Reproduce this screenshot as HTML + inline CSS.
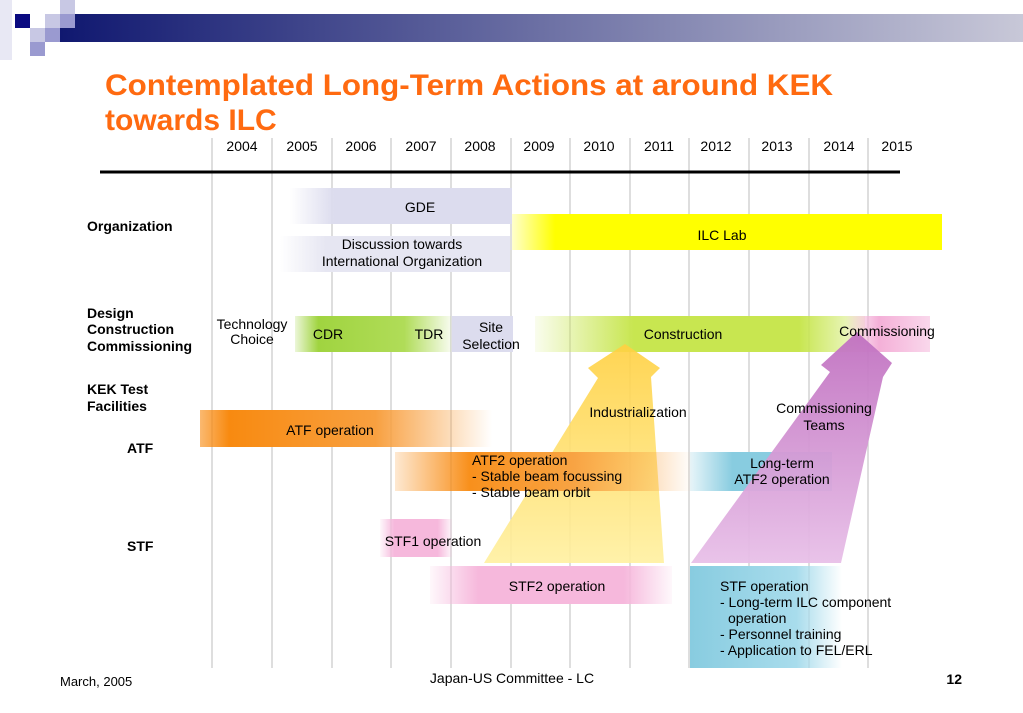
<!DOCTYPE html>
<html><head><meta charset="utf-8"><style>
body{margin:0;width:1023px;height:708px;overflow:hidden;background:#fff;font-family:"Liberation Sans",Arial,sans-serif}
</style></head><body>
<svg width="1023" height="708" viewBox="0 0 1023 708" xmlns="http://www.w3.org/2000/svg" font-family="Liberation Sans, Arial, sans-serif">
<defs>
<linearGradient id="hb" x1="0" x2="1"><stop offset="0" stop-color="#101870"/><stop offset="1" stop-color="#c8c8d8"/></linearGradient>
<linearGradient id="lavL" x1="0" x2="1"><stop offset="0" stop-color="#dcdcee" stop-opacity="0"/><stop offset="0.2" stop-color="#dcdcee"/><stop offset="1" stop-color="#dcdcee"/></linearGradient>
<linearGradient id="lav2" x1="0" x2="1"><stop offset="0" stop-color="#e6e6f2" stop-opacity="0"/><stop offset="0.2" stop-color="#e6e6f2"/><stop offset="1" stop-color="#e6e6f2"/></linearGradient>
<linearGradient id="yel" x1="0" x2="1"><stop offset="0" stop-color="#ffff00" stop-opacity="0.2"/><stop offset="0.1" stop-color="#ffff00"/><stop offset="1" stop-color="#ffff00"/></linearGradient>
<linearGradient id="grn" x1="0" x2="1"><stop offset="0" stop-color="#a0d440" stop-opacity="0.2"/><stop offset="0.15" stop-color="#a0d440"/><stop offset="0.7" stop-color="#b0dc58"/><stop offset="1" stop-color="#b0dc58" stop-opacity="0.1"/></linearGradient>
<linearGradient id="con" x1="0" x2="1"><stop offset="0" stop-color="#c8e650" stop-opacity="0.1"/><stop offset="0.3" stop-color="#c8e650"/><stop offset="0.8" stop-color="#c8e650"/><stop offset="1" stop-color="#c8e650" stop-opacity="0.2"/></linearGradient>
<linearGradient id="pkR" x1="0" x2="1"><stop offset="0" stop-color="#f4b0d8" stop-opacity="0"/><stop offset="0.4" stop-color="#f4b0d8"/><stop offset="1" stop-color="#f4b0d8" stop-opacity="0.5"/></linearGradient>
<linearGradient id="org" x1="0" x2="1"><stop offset="0" stop-color="#f88a10" stop-opacity="0.6"/><stop offset="0.1" stop-color="#f88a10"/><stop offset="0.6" stop-color="#f8a040"/><stop offset="1" stop-color="#f8a040" stop-opacity="0"/></linearGradient>
<linearGradient id="org2" x1="0" x2="1"><stop offset="0" stop-color="#f88a10" stop-opacity="0.2"/><stop offset="0.25" stop-color="#f88a10"/><stop offset="0.6" stop-color="#f8a040"/><stop offset="1" stop-color="#f8a040" stop-opacity="0"/></linearGradient>
<linearGradient id="blu" x1="0" x2="1"><stop offset="0" stop-color="#88cce0" stop-opacity="0.2"/><stop offset="0.3" stop-color="#88cce0"/><stop offset="1" stop-color="#88cce0"/></linearGradient>
<linearGradient id="blu2" x1="0" x2="1"><stop offset="0" stop-color="#88cce0"/><stop offset="0.7" stop-color="#a8dcec"/><stop offset="1" stop-color="#a8dcec" stop-opacity="0"/></linearGradient>
<linearGradient id="pk" x1="0" x2="1"><stop offset="0" stop-color="#f6b8dc" stop-opacity="0.1"/><stop offset="0.2" stop-color="#f6b8dc"/><stop offset="0.8" stop-color="#f6b8dc"/><stop offset="1" stop-color="#f6b8dc" stop-opacity="0.1"/></linearGradient>
<linearGradient id="ya" x1="0" x2="0" y1="0" y2="1"><stop offset="0" stop-color="#ffd040"/><stop offset="1" stop-color="#fff0a0"/></linearGradient>
<linearGradient id="pa" x1="0" x2="0" y1="0" y2="1"><stop offset="0" stop-color="#c070c0"/><stop offset="1" stop-color="#e8c0e8"/></linearGradient>
</defs>
<!-- header -->
<rect x="60" y="14" width="963" height="28" fill="url(#hb)"/>
<rect x="15" y="14" width="15" height="14" fill="#0a0a80"/>
<rect x="30" y="0" width="30" height="14" fill="#ffffff"/>
<rect x="45" y="14" width="15" height="14" fill="#c8c8e4"/>
<rect x="60" y="0" width="15" height="14" fill="#c8c8e4"/>
<rect x="60" y="14" width="15" height="14" fill="#9a9ad0"/>
<rect x="30" y="28" width="15" height="14" fill="#c8c8e4"/>
<rect x="45" y="28" width="15" height="14" fill="#9a9ad0"/>
<rect x="30" y="42" width="15" height="14" fill="#9a9ad0"/>
<rect x="0" y="0" width="12" height="60" fill="#e8e8f4"/>
<!-- title -->
<text x="105" y="95" font-size="30" font-weight="bold" fill="#ff6a10" textLength="728" lengthAdjust="spacingAndGlyphs">Contemplated Long-Term Actions at around KEK</text>
<text x="105" y="130" font-size="30" font-weight="bold" fill="#ff6a10">towards ILC</text>
<!-- grid -->
<g stroke="#c8c8c8" stroke-width="1.2">
<line x1="212" y1="138" x2="212" y2="668"/><line x1="272" y1="138" x2="272" y2="668"/><line x1="332" y1="138" x2="332" y2="668"/><line x1="391" y1="138" x2="391" y2="668"/><line x1="451" y1="138" x2="451" y2="668"/><line x1="511" y1="138" x2="511" y2="668"/><line x1="570" y1="138" x2="570" y2="668"/><line x1="630" y1="138" x2="630" y2="668"/><line x1="689" y1="138" x2="689" y2="668"/><line x1="749" y1="138" x2="749" y2="668"/><line x1="809" y1="138" x2="809" y2="668"/><line x1="868" y1="138" x2="868" y2="668"/>
</g>
<line x1="100" y1="172" x2="900" y2="172" stroke="#000" stroke-width="3"/>
<g font-size="14" text-anchor="middle" fill="#000">
<text x="242" y="151">2004</text><text x="302" y="151">2005</text><text x="361" y="151">2006</text><text x="421" y="151">2007</text><text x="480" y="151">2008</text><text x="539" y="151">2009</text><text x="599" y="151">2010</text><text x="659" y="151">2011</text><text x="716" y="151">2012</text><text x="777" y="151">2013</text><text x="839" y="151">2014</text><text x="897" y="151">2015</text>
</g>
<!-- bands -->
<rect x="290" y="188" width="222" height="36" fill="url(#lavL)"/>
<rect x="280" y="236" width="230" height="36" fill="url(#lav2)"/>
<rect x="512" y="214" width="430" height="36" fill="url(#yel)"/>
<rect x="295" y="316" width="156" height="36" fill="url(#grn)"/>
<rect x="452" y="316" width="61" height="36" fill="#dcdcee"/>
<rect x="535" y="316" width="330" height="36" fill="url(#con)"/>
<rect x="845" y="316" width="85" height="36" fill="url(#pkR)"/>
<rect x="200" y="410" width="292" height="37" fill="url(#org)"/>
<rect x="380" y="519" width="72" height="38" fill="url(#pk)"/>
<rect x="430" y="566" width="242" height="38" fill="url(#pk)"/>
<!-- arrows -->
<polygon points="625,344 660,368 651,377 664,563 484,563 598,378 588,368" fill="url(#ya)" opacity="0.9"/>
<rect x="395" y="452" width="298" height="39" fill="url(#org2)" opacity="0.95"/>
<rect x="690" y="452" width="142" height="39" fill="url(#blu)"/>
<polygon points="857,332 892,363 883,377 841,563 691,563 830,372 821,365" fill="url(#pa)" opacity="0.95"/>
<rect x="690" y="566" width="152" height="102" fill="url(#blu2)"/>
<!-- labels -->
<g font-size="14" font-weight="bold" fill="#000">
<text x="87" y="231">Organization</text>
<text x="87" y="318">Design</text><text x="87" y="334">Construction</text><text x="87" y="351">Commissioning</text>
<text x="87" y="394">KEK Test</text><text x="87" y="411">Facilities</text>
<text x="127" y="453">ATF</text><text x="127" y="551">STF</text>
</g>
<g font-size="14" fill="#000" text-anchor="middle">
<text x="420" y="212">GDE</text>
<text x="402" y="249">Discussion towards</text><text x="402" y="266">International Organization</text>
<text x="722" y="240">ILC Lab</text>
<text x="252" y="329">Technology</text><text x="252" y="344">Choice</text>
<text x="328" y="339">CDR</text><text x="429" y="339">TDR</text>
<text x="491" y="332">Site</text><text x="491" y="349">Selection</text>
<text x="683" y="339">Construction</text>
<text x="887" y="336">Commissioning</text>
<text x="638" y="417">Industrialization</text>
<text x="824" y="413">Commissioning</text><text x="824" y="430">Teams</text>
<text x="330" y="435">ATF operation</text>
<text x="782" y="468">Long-term</text><text x="782" y="484">ATF2 operation</text>
<text x="433" y="546">STF1 operation</text>
<text x="557" y="591">STF2 operation</text>
</g>
<g font-size="14" fill="#000">
<text x="472" y="465">ATF2 operation</text><text x="472" y="481">- Stable beam focussing</text><text x="472" y="497">- Stable beam orbit</text>
<text x="720" y="591">STF operation</text><text x="720" y="607">- Long-term ILC component</text><text x="728" y="623">operation</text><text x="720" y="639">- Personnel training</text><text x="720" y="655">- Application to FEL/ERL</text>
</g>
<!-- footer -->
<text x="60" y="686" font-size="13">March, 2005</text>
<text x="512" y="683" font-size="14" text-anchor="middle">Japan-US Committee - LC</text>
<text x="962" y="684" font-size="14" font-weight="bold" text-anchor="end">12</text>
</svg>
</body></html>
